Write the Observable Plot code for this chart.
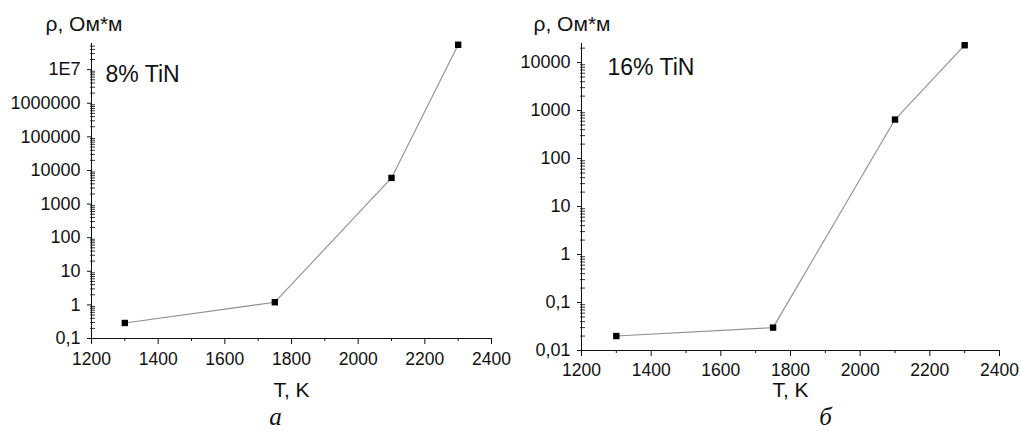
<!DOCTYPE html>
<html><head><meta charset="utf-8">
<script src="https://cdn.jsdelivr.net/npm/d3@7"></script>
<script src="https://cdn.jsdelivr.net/npm/@observablehq/plot@0.6"></script>
<style>
html,body{margin:0;padding:0;background:#fff;}
#wrap{position:relative;width:1021px;height:432px;overflow:hidden;background:#fff;}
#wrap svg{position:absolute;top:0;}
</style></head><body><div id="wrap"></div>
<script>
// ---- data ----
const temperatures = [1300, 1750, 2100, 2300];
const rho8 = [0.29, 1.2, 6000, 5.5e7];
const rho16 = [0.02, 0.03, 650, 23000];
const xDomain = [1200, 2400];
const xTicks = [1200, 1400, 1600, 1800, 2000, 2200, 2400];
const xTickLabels = ["1200", "1400", "1600", "1800", "2000", "2200", "2400"];
const xMinorTicks = [1300, 1500, 1700, 1900, 2100, 2300];
const yDomain8 = [0.1, 6e7];
const yTicks8 = [0.1, 1, 10, 100, 1000, 1e4, 1e5, 1e6, 1e7];
const yTickLabels8 = ["0,1", "1", "10", "100", "1000", "10000", "100000", "1000000", "1E7"];
const yDomain16 = [0.01, 25000];
const yTicks16 = [0.01, 0.1, 1, 10, 100, 1000, 1e4];
const yTickLabels16 = ["0,01", "0,1", "1", "10", "100", "1000", "10000"];
const yLabel = "ρ, Ом*м";
const xLabel = "T, K";

function minorLog(domain) {
  const out = [];
  const d0 = Math.floor(Math.log10(domain[0])), d1 = Math.ceil(Math.log10(domain[1]));
  for (let d = d0; d <= d1; d++) for (let k = 2; k <= 9; k++) {
    const v = k * Math.pow(10, d);
    if (v > domain[0] && v < domain[1]) out.push(v);
  }
  return out;
}

const FONT = "'Liberation Sans', Arial, sans-serif";
// a short horizontal stub pointing right: used as a minor tick symbol on the y axis
const minorTickSymbol = {draw(context) { context.moveTo(-1.5, 0); context.lineTo(3.5, 0); }};

function panel(o) {
  const data = temperatures.map((t, i) => ({t, v: o.values[i]}));
  const fmtY = v => o.yLabels[o.yTicks.findIndex(t => Math.abs(t - v) / t < 1e-6)];
  const fmtX = v => xTickLabels[xTicks.indexOf(v)];
  return Plot.plot({
    width: 510, height: 432,
    marginLeft: o.ml, marginRight: o.mr, marginTop: o.mt, marginBottom: o.mb,
    style: {fontFamily: FONT, fontSize: "17px", color: "#111", background: "transparent", overflow: "visible"},
    x: {type: "linear", domain: xDomain},
    y: {type: "log", domain: o.yDomain},
    marks: [
      Plot.axisX(xTicks, {tickSize: 6, tickPadding: o.xPad, tickFormat: fmtX, label: null, fontSize: 17.5, stroke: "#111", fill: "#111"}),
      Plot.axisX(xMinorTicks, {tickSize: 3, text: null, label: null, stroke: "#111"}),
      Plot.axisY(o.yTicks, {tickSize: 4, tickPadding: 7, tickFormat: fmtY, label: null, fontSize: 18, stroke: "#111", fill: "#111"}),
      Plot.dot(minorLog(o.yDomain), {x: () => xDomain[0], y: d => d, symbol: minorTickSymbol, r: 2, fill: "none", stroke: "#333", strokeWidth: 1}),
      Plot.ruleX([xDomain[0]], {stroke: "#111"}),
      Plot.ruleY([o.yDomain[0]], {stroke: "#111"}),
      Plot.line(data, {x: "t", y: "v", stroke: "#8f8f8f", strokeWidth: 1.1}),
      Plot.dot(data, {x: "t", y: "v", symbol: "square", r: 3.6, fill: "#000", stroke: "none"}),
      Plot.text([yLabel], {text: d => d, frameAnchor: "top-left", textAnchor: "start", lineAnchor: "middle", dx: o.ylDx, dy: -19, fontSize: 21, fill: "#111"}),
      Plot.text([o.tag], {text: d => d, frameAnchor: "top-left", textAnchor: "start", lineAnchor: "middle", dx: o.tagDx, dy: o.tagDy, fontSize: 23, fill: "#111"}),
      Plot.text([xLabel], {text: d => d, frameAnchor: "bottom", lineAnchor: "middle", dy: o.xlDy, fontSize: 21, fill: "#111"}),
      Plot.text([o.letter], {text: d => d, frameAnchor: "bottom", lineAnchor: "middle", dx: o.letDx, dy: o.letDy, fontSize: 25, fontFamily: "'Liberation Serif', 'Times New Roman', serif", fontStyle: "italic", fill: "#111"})
    ]
  });
}

const wrap = document.getElementById("wrap");
const left = panel({
  values: rho8, yDomain: yDomain8, yTicks: yTicks8, yLabels: yTickLabels8,
  ml: 91, mr: 19, mt: 43, mb: 94, xPad: 8,
  ylDx: -46, tag: "8% TiN", tagDx: 14, tagDy: 31,
  xlDy: 52, letter: "а", letDx: -16, letDy: 78
});
left.style.left = "0px";
wrap.appendChild(left);
const right = panel({
  values: rho16, yDomain: yDomain16, yTicks: yTicks16, yLabels: yTickLabels16,
  ml: 70, mr: 22, mt: 43, mb: 82, xPad: 7,
  ylDx: -48, tag: "16% TiN", tagDx: 26, tagDy: 24,
  xlDy: 40, letter: "б", letDx: 35, letDy: 66
});
right.style.left = "511px";
wrap.appendChild(right);
</script></body></html>
